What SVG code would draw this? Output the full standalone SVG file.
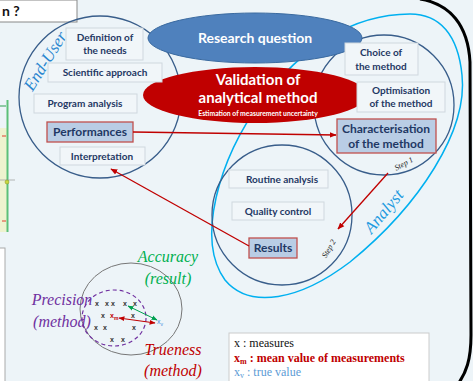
<svg xmlns="http://www.w3.org/2000/svg" width="473" height="381" viewBox="0 0 473 381">
<defs>
<marker id="ah" viewBox="0 0 10 10" refX="9" refY="5" markerWidth="7" markerHeight="7" orient="auto-start-reverse" markerUnits="userSpaceOnUse">
<path d="M0,1 L10,5 L0,9 z" fill="#c00000"/>
</marker>
<marker id="ahg" viewBox="0 0 10 10" refX="9" refY="5" markerWidth="6" markerHeight="6" orient="auto-start-reverse" markerUnits="userSpaceOnUse">
<path d="M0,1 L10,5 L0,9 z" fill="#00a050"/>
</marker>
<marker id="ahr" viewBox="0 0 10 10" refX="9" refY="5" markerWidth="6" markerHeight="6" orient="auto-start-reverse" markerUnits="userSpaceOnUse">
<path d="M0,1 L10,5 L0,9 z" fill="#c00000"/>
</marker>
</defs>
<style>
.bx{fill:#f1f6f9;stroke:#cfd7de;stroke-width:1}
.hb{fill:#b9cde5;stroke:#c0504d;stroke-width:1.3}
.t{font-family:Lato,"Liberation Sans",sans-serif;font-weight:bold;font-size:10px;fill:#1f3864;text-anchor:middle}
.th{font-family:Lato,"Liberation Sans",sans-serif;font-weight:bold;font-size:12px;fill:#1f3864;text-anchor:middle}
.w{font-family:Lato,"Liberation Sans",sans-serif;font-weight:bold;fill:#fff;text-anchor:middle}
.c{fill:none;stroke:#385d8a;stroke-width:1.3}
.cal{font-family:"Liberation Serif",serif;font-style:italic;text-anchor:middle}
.step{font-family:"Liberation Serif",serif;font-style:italic;font-size:8px;fill:#222;text-anchor:middle}
.xm{font-family:"Liberation Sans",sans-serif;font-size:7px;font-weight:bold;fill:#333;text-anchor:middle}
.lg{font-family:"Liberation Serif",serif;font-size:12px}
.arr{fill:none;stroke:#c00000;stroke-width:1.3;marker-end:url(#ah)}
</style>
<rect width="473" height="381" fill="#edf4f8"/>

<!-- left edge fragments -->
<rect x="0" y="128" width="7" height="104" fill="#eef3cf"/>
<line x1="7.5" y1="100" x2="7.5" y2="232" stroke="#5cc078" stroke-width="2"/>
<line x1="0" y1="106" x2="6" y2="106" stroke="#2ea050" stroke-width="1"/>
<line x1="2" y1="136" x2="6" y2="136" stroke="#e04030" stroke-width="1"/>
<line x1="2" y1="221" x2="6" y2="221" stroke="#e04030" stroke-width="1"/>
<line x1="0" y1="180" x2="15" y2="180" stroke="#999" stroke-width="0.7"/>
<circle cx="7" cy="182" r="2" fill="#c8d840" stroke="#889020" stroke-width="0.5"/>
<rect x="-1" y="248" width="6" height="134" fill="#fff" stroke="#aaa" stroke-width="1"/>

<!-- top-left title fragment -->
<g id="title">
<rect x="-1" y="0" width="78" height="22" fill="#fff" stroke="#888" stroke-width="1"/>
<text x="2" y="16" font-family="Lato,'Liberation Sans',sans-serif" font-weight="bold" font-size="14" fill="#111">n ?</text>
</g>

<!-- black frame curve -->
<path d="M420 -1 C450 4 468 25 470 62 L471 335 C471 360 466 373 458 384" fill="none" stroke="#000" stroke-width="3"/>

<!-- circles -->
<g id="analyst-zone">
<path d="M410 14 C350 14 300 50 262 100 C218 160 196 240 225 280 C250 310 300 300 350 262 C420 205 468 130 462 75 C458 35 440 14 410 14 Z" fill="none" stroke="#00b0f0" stroke-width="1.5"/>
<text class="cal" font-size="17" fill="#1e9be0" transform="translate(388 215) rotate(-50)">Analyst</text>
</g>
<g id="end-user-zone">
<circle class="c" cx="100" cy="97" r="81"/>
<text class="cal" font-size="17" fill="#2a86cf" transform="translate(50 64) rotate(-58)">End-User</text>
</g>
<g id="step1-zone">
<circle class="c" cx="384" cy="105" r="70"/>
<text class="step" transform="translate(405 166) rotate(-28)">Step 1</text>
</g>
<g id="step2-zone">
<circle class="c" cx="282" cy="215" r="70"/>
<text class="step" transform="translate(331 250) rotate(-60)">Step 2</text>
</g>

<!-- ellipses -->
<g id="research-question">
<ellipse cx="255" cy="38" rx="107" ry="25" fill="#4f81bd" stroke="#3a6aa0" stroke-width="1"/>
<text class="w" x="255" y="43" font-size="14">Research question</text>
</g>
<g id="validation">
<ellipse cx="255" cy="95" rx="112" ry="28" fill="#c00000"/>
<text class="w" x="258" y="85" font-size="15">Validation of</text>
<text class="w" x="258" y="103" font-size="15">analytical method</text>
<text class="w" x="258" y="116" font-size="6.8">Estimation of measurement uncertainty</text>
</g>

<!-- end-user boxes -->
<g id="definition"><rect class="bx" x="66" y="28" width="77" height="32"/><text class="t" x="105" y="41">Definition of</text><text class="t" x="105" y="54">the needs</text></g>
<g id="scientific"><rect class="bx" x="48" y="63" width="114" height="19"/><text class="t" x="105" y="76">Scientific approach</text></g>
<g id="program"><rect class="bx" x="34" y="94" width="103" height="19"/><text class="t" x="85" y="107">Program analysis</text></g>
<g id="performances"><rect class="hb" x="47" y="122" width="86" height="20"/><text class="th" x="90" y="136">Performances</text></g>
<g id="interpretation"><rect class="bx" x="60" y="147" width="85" height="18"/><text class="t" x="102" y="160">Interpretation</text></g>

<!-- step1 boxes -->
<g id="choice"><rect class="bx" x="345" y="43" width="73" height="32"/><text class="t" x="381" y="56">Choice of</text><text class="t" x="381" y="70">the method</text></g>
<g id="optimisation"><rect class="bx" x="357" y="82" width="88" height="30"/><text class="t" x="401" y="94">Optimisation</text><text class="t" x="401" y="107">of the method</text></g>
<g id="characterisation"><rect class="hb" x="337" y="119" width="99" height="34"/><text class="th" x="386" y="133">Characterisation</text><text class="th" x="386" y="148">of the method</text></g>

<!-- step2 boxes -->
<g id="routine"><rect class="bx" x="229" y="170" width="99" height="18"/><text class="t" x="282" y="183">Routine analysis</text></g>
<g id="quality"><rect class="bx" x="232" y="202" width="92" height="18"/><text class="t" x="278" y="215">Quality control</text></g>
<g id="results"><rect class="hb" x="249" y="238" width="48" height="20"/><text class="th" x="273" y="252">Results</text></g>

<!-- connectors -->
<g id="connectors">
<line class="arr" x1="133" y1="132" x2="336" y2="135"/>
<line class="arr" x1="249" y1="246" x2="111" y2="169"/>
<line class="arr" x1="388" y1="173" x2="338" y2="229"/>
</g>

<!-- accuracy diagram -->
<g id="accuracy-diagram">
<ellipse cx="131" cy="309" rx="51" ry="46" fill="none" stroke="#777" stroke-width="1"/>
<ellipse cx="114" cy="318" rx="32" ry="28" fill="none" stroke="#7030a0" stroke-width="1.2" stroke-dasharray="4 3"/>
<text class="xm" x="97" y="306">x</text><text class="xm" x="107" y="306">x</text><text class="xm" x="113" y="306">x</text><text class="xm" x="125" y="306">x</text><text class="xm" x="135" y="306">x</text>
<text class="xm" x="103" y="318">x</text><text class="xm" x="133" y="318">x</text>
<text class="xm" x="96" y="330">x</text><text class="xm" x="105" y="330">x</text><text class="xm" x="134" y="330">x</text>
<text class="xm" x="112" y="342">x</text><text class="xm" x="123" y="342">x</text>
<text x="110" y="318" font-family="Liberation Sans,sans-serif" font-size="7" font-weight="bold" fill="#c00000">x<tspan font-size="5" dy="2">m</tspan></text>
<text x="157" y="324" font-family="Liberation Sans,sans-serif" font-size="7" fill="#4a8fe0">x<tspan font-size="5" dy="2">v</tspan></text>
<line x1="128" y1="306" x2="157" y2="320" stroke="#00a050" stroke-width="1" marker-start="url(#ahg)" marker-end="url(#ahg)"/>
<line x1="119" y1="318" x2="155" y2="323" stroke="#c00000" stroke-width="1" marker-start="url(#ahr)" marker-end="url(#ahr)"/>
<text class="cal" x="168" y="262" font-size="16" fill="#00b050">Accuracy</text>
<text class="cal" x="168" y="284" font-size="16" fill="#00b050">(result)</text>
<text class="cal" x="62" y="305" font-size="16" fill="#7030a0">Precision</text>
<text class="cal" x="62" y="327" font-size="16" fill="#7030a0">(method)</text>
<text class="cal" x="173" y="355" font-size="16" fill="#c00000">Trueness</text>
<text class="cal" x="173" y="376" font-size="16" fill="#c00000">(method)</text>
</g>

<!-- legend -->
<g id="legend">
<rect x="229" y="333" width="200" height="52" fill="#fff" stroke="#ccc" stroke-width="1"/>
<text class="lg" x="234" y="347" fill="#111">x : measures</text>
<text class="lg" x="234" y="362" fill="#c00000" font-weight="bold">x<tspan font-size="8" dy="2">m</tspan><tspan dy="-2"> : mean value of measurements</tspan></text>
<text class="lg" x="234" y="376" fill="#5b9bd5">x<tspan font-size="8" dy="1.5">v</tspan><tspan dy="-1.5"> : true value</tspan></text>
</g>
</svg>
